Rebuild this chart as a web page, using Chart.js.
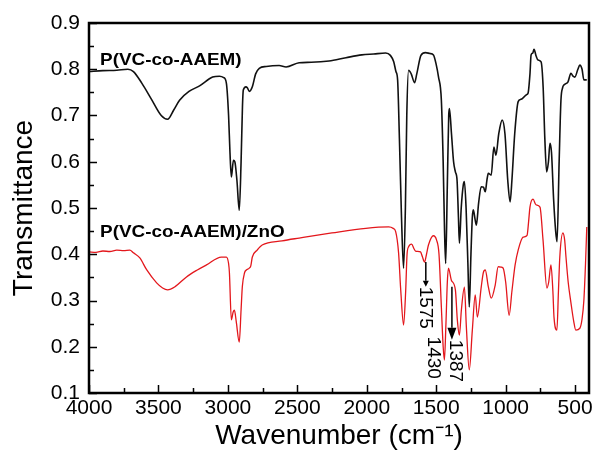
<!DOCTYPE html>
<html>
<head>
<meta charset="utf-8">
<script src="https://cdn.jsdelivr.net/npm/chart.js@4.4.1/dist/chart.umd.min.js"></script>
<style>
  html, body { margin: 0; padding: 0; background: #fff; }
  #wrap { width: 596px; height: 457px; }
</style>
</head>
<body>
<div id="wrap"><canvas id="myChart" width="596" height="457"></canvas></div>
<script>
// P(VC-co-AAEM) spectrum
const blackWn = [4000,3900,3800,3720,3680,3620,3550,3480,3434,3390,3348,3280,3204,3110,3061,3030,3011,2995,2985,2975,2960,2950,2935,2918,2905,2895,2889,2870,2860,2845,2835,2824,2800,2774,2724,2631,2581,2487,2400,2272,2150,2036,1950,1864,1830,1806,1790,1778,1765,1750,1735,1722,1712,1699,1680,1656,1640,1610,1577,1545,1520,1500,1484,1463,1450,1440,1432,1420,1410,1405,1390,1375,1362,1350,1340,1333,1320,1305,1297,1285,1272,1262,1250,1240,1233,1220,1211,1195,1176,1160,1147,1135,1125,1104,1085,1070,1050,1025,1005,985,968,955,935,910,890,875,850,839,825,817,805,796,780,767,745,730,718,705,692,681,670,655,640,630,615,602,590,581,560,552,530,515,502,480,466,450,437,416];
const blackT = [0.795,0.797,0.798,0.800,0.795,0.770,0.735,0.700,0.692,0.712,0.733,0.752,0.764,0.783,0.785,0.782,0.770,0.700,0.620,0.567,0.603,0.600,0.560,0.495,0.600,0.720,0.755,0.762,0.760,0.752,0.755,0.762,0.790,0.802,0.806,0.808,0.805,0.814,0.815,0.818,0.825,0.831,0.833,0.835,0.830,0.816,0.795,0.777,0.650,0.480,0.370,0.500,0.700,0.798,0.790,0.771,0.790,0.830,0.836,0.834,0.831,0.810,0.784,0.733,0.600,0.450,0.380,0.550,0.700,0.715,0.660,0.600,0.578,0.560,0.480,0.424,0.500,0.550,0.557,0.500,0.380,0.286,0.400,0.480,0.496,0.475,0.463,0.510,0.546,0.545,0.535,0.560,0.575,0.571,0.632,0.614,0.660,0.690,0.660,0.560,0.513,0.560,0.660,0.730,0.735,0.738,0.745,0.748,0.790,0.831,0.835,0.843,0.828,0.820,0.816,0.760,0.650,0.578,0.600,0.640,0.620,0.520,0.450,0.427,0.600,0.733,0.760,0.766,0.770,0.772,0.791,0.785,0.783,0.800,0.809,0.800,0.777,0.777];

// P(VC-co-AAEM)/ZnO spectrum
const redWn = [4000,3950,3900,3850,3800,3750,3706,3680,3634,3584,3513,3470,3434,3380,3298,3220,3154,3047,3011,2995,2989,2975,2962,2953,2940,2918,2905,2896,2880,2867,2846,2835,2824,2789,2753,2610,2487,2251,2007,1842,1810,1792,1771,1755,1735,1720,1710,1699,1677,1660,1649,1613,1600,1584,1570,1556,1520,1498,1480,1463,1450,1441,1430,1420,1412,1391,1362,1348,1333,1319,1297,1283,1262,1240,1219,1204,1176,1161,1147,1125,1104,1075,1054,1030,1018,1000,975,955,932,910,875,846,835,825,803,782,753,731,703,690,674,660,652,631,620,610,588,575,566,550,530,510,495,466,450,437,425,416];
const redT = [0.405,0.404,0.407,0.406,0.409,0.408,0.409,0.403,0.392,0.366,0.338,0.327,0.323,0.330,0.351,0.366,0.377,0.394,0.394,0.380,0.360,0.258,0.275,0.279,0.255,0.210,0.280,0.330,0.360,0.366,0.370,0.375,0.394,0.409,0.420,0.429,0.435,0.446,0.456,0.459,0.456,0.449,0.403,0.320,0.247,0.320,0.400,0.416,0.422,0.412,0.407,0.405,0.395,0.383,0.400,0.420,0.440,0.431,0.400,0.286,0.200,0.171,0.250,0.340,0.370,0.344,0.323,0.258,0.225,0.279,0.329,0.243,0.150,0.236,0.312,0.264,0.329,0.360,0.366,0.330,0.305,0.334,0.373,0.372,0.370,0.340,0.268,0.320,0.377,0.409,0.437,0.441,0.470,0.502,0.519,0.507,0.502,0.431,0.327,0.340,0.377,0.320,0.264,0.236,0.320,0.395,0.446,0.430,0.395,0.340,0.295,0.255,0.236,0.240,0.260,0.300,0.380,0.459];

const xTicks = [4000,3500,3000,2500,2000,1500,1000,500];
const yTicks = [0.1,0.2,0.3,0.4,0.5,0.6,0.7,0.8,0.9];
const seriesNames = ['P(VC-co-AAEM)', 'P(VC-co-AAEM)/ZnO'];
const peakMarks = ['1575', '1430', '1387'];

const toPoints = (wn, t) => wn.map((w, i) => ({x: w, y: t[i]}));

Chart.defaults.font.family = "'Liberation Sans', Arial, sans-serif";
Chart.defaults.color = '#000';

// inward ticks, frame, curve labels and peak arrows
const decor = {
  id: 'decor',
  afterDraw(chart) {
    const c = chart.ctx;
    const xs = chart.scales.x, ys = chart.scales.y;
    const a = chart.chartArea;
    c.save();
    c.strokeStyle = '#000';
    c.lineWidth = 1.5;
    c.beginPath();
    for (let v = 500; v <= 4000; v += 250) {
      const px = Math.round(xs.getPixelForValue(v)) + 0.5;
      const len = v % 500 === 0 ? 8 : 5;
      c.moveTo(px, a.bottom); c.lineTo(px, a.bottom - len);
    }
    for (let k = 2; k <= 18; k++) {
      const v = k * 0.05;
      const py = Math.round(ys.getPixelForValue(v)) + 0.5;
      const len = k % 2 === 0 ? 8 : 5;
      c.moveTo(a.left, py); c.lineTo(a.left + len, py);
    }
    c.stroke();
    c.lineWidth = 2.5;
    c.strokeRect(a.left, a.top, a.right - a.left, a.bottom - a.top);

    c.fillStyle = '#000';
    c.font = "bold 17px 'Liberation Sans', Arial, sans-serif";
    c.textBaseline = 'middle';
    c.textAlign = 'left';
    const wideText = (txt, x, y) => {
      c.save(); c.translate(x, y); c.scale(1.11, 1); c.fillText(txt, 0, 0); c.restore();
    };
    wideText(seriesNames[0], xs.getPixelForValue(3920), ys.getPixelForValue(0.82));
    wideText(seriesNames[1], xs.getPixelForValue(3920), ys.getPixelForValue(0.448));

    const arrow = (x, y1, y2, head, w) => {
      c.lineWidth = 1.5;
      c.beginPath(); c.moveTo(x, y1); c.lineTo(x, y2 - head); c.stroke();
      c.beginPath(); c.moveTo(x - w / 2, y2 - head); c.lineTo(x + w / 2, y2 - head); c.lineTo(x, y2); c.closePath(); c.fill();
    };
    const vText = (txt, x, y) => {
      c.save(); c.translate(x, y); c.rotate(Math.PI / 2);
      c.textAlign = 'left'; c.textBaseline = 'middle'; c.fillText(txt, 0, 0); c.restore();
    };
    c.font = "19px 'Liberation Sans', Arial, sans-serif";
    const x1575 = xs.getPixelForValue(1575);
    arrow(x1575, ys.getPixelForValue(0.383), ys.getPixelForValue(0.33), 6, 6);
    vText(peakMarks[0], x1575 - 1, ys.getPixelForValue(0.33));
    vText(peakMarks[1], x1575 + 7, ys.getPixelForValue(0.222));
    const x1387 = xs.getPixelForValue(1387);
    arrow(x1387, ys.getPixelForValue(0.33), ys.getPixelForValue(0.215), 12, 9);
    vText(peakMarks[2], x1387 + 3, ys.getPixelForValue(0.215));
    c.restore();
  }
};

const ctx = document.getElementById('myChart').getContext('2d');
const myChart = new Chart(ctx, {
  type: 'line',
  data: {
    datasets: [
      {
        label: seriesNames[0],
        data: toPoints(blackWn, blackT),
        borderColor: '#111',
        borderWidth: 1.6,
        pointRadius: 0,
        cubicInterpolationMode: 'monotone'
      },
      {
        label: seriesNames[1],
        data: toPoints(redWn, redT),
        borderColor: '#e3171c',
        borderWidth: 1.3,
        pointRadius: 0,
        cubicInterpolationMode: 'monotone'
      }
    ]
  },
  options: {
    responsive: false,
    devicePixelRatio: 1,
    animation: false,
    layout: { padding: { top: 23, right: 7, left: 0, bottom: 0 } },
    plugins: { legend: { display: false }, tooltip: { enabled: false } },
    scales: {
      x: {
        type: 'linear',
        reverse: true,
        min: 400,
        max: 4000,
        grid: { display: false, drawTicks: false },
        border: { display: false },
        afterBuildTicks: (s) => { s.ticks = xTicks.map(v => ({value: v})); },
        afterFit: (s) => { s.height = 64; },
        ticks: { font: { size: 21 }, padding: 3, maxRotation: 0, autoSkip: false, callback: (v) => String(v) },
        title: { display: true, text: 'Wavenumber (cm⁻¹)', font: { size: 28 }, padding: { top: 0, bottom: 4 } }
      },
      y: {
        min: 0.1,
        max: 0.9,
        grid: { display: false, drawTicks: false },
        border: { display: false },
        afterBuildTicks: (s) => { s.ticks = yTicks.map(v => ({value: v})); },
        afterFit: (s) => { s.width = 89; },
        ticks: { font: { size: 21 }, padding: 9, autoSkip: false, callback: (v) => v.toFixed(1) },
        title: { display: true, text: 'Transmittance', font: { size: 28 }, padding: { top: 7, bottom: 0 } }
      }
    }
  },
  plugins: [decor]
});
</script>
</body>
</html>
